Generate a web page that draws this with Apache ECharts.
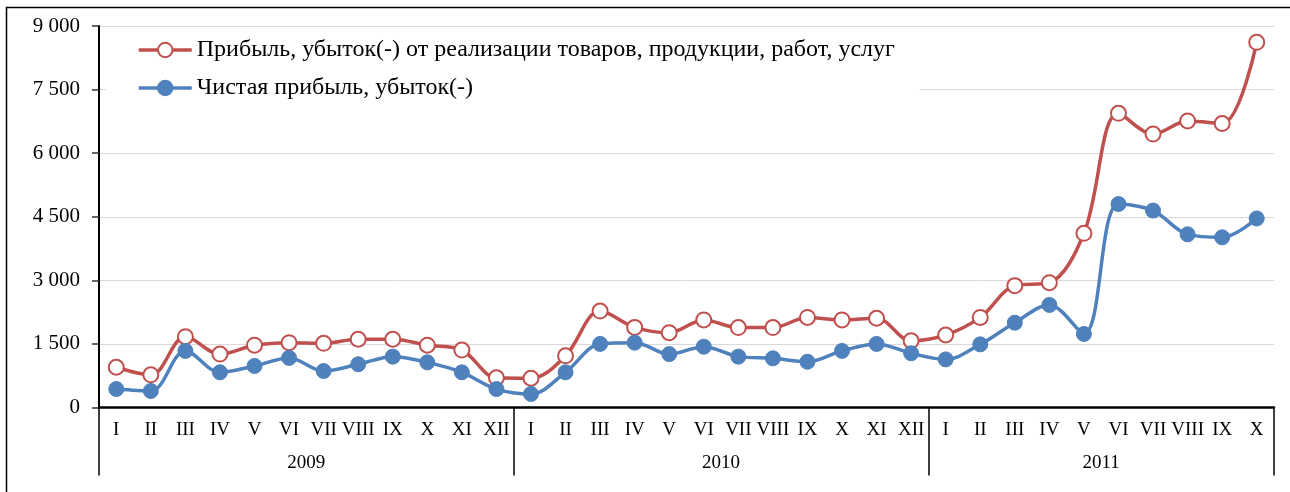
<!DOCTYPE html>
<html>
<head>
<meta charset="utf-8">
<script src="https://cdn.jsdelivr.net/npm/echarts@6/dist/echarts.min.js"></script>
<style>
html,body{margin:0;padding:0;background:#fff;}
#chart{width:1290px;height:492px;}
</style>
</head>
<body>
<div id="chart"></div>
<script>
const months = ['I','II','III','IV','V','VI','VII','VIII','IX','X','XI','XII',
                'I','II','III','IV','V','VI','VII','VIII','IX','X','XI','XII',
                'I','II','III','IV','V','VI','VII','VIII','IX','X'];
const years = ['2009','2010','2011'];
const yearCounts = [12, 12, 10];
const yTicks = [0, 1500, 3000, 4500, 6000, 7500, 9000];
const seriesNames = ['Прибыль, убыток(-) от реализации товаров, продукции, работ, услуг',
                     'Чистая прибыль, убыток(-)'];
const salesProfit = [950, 770, 1670, 1260, 1470, 1530, 1515, 1610, 1610, 1470, 1355, 700,
                     690, 1220, 2275, 1890, 1765, 2065, 1885, 1885, 2125, 2065, 2105, 1575,
                     1710, 2125, 2875, 2945, 4110, 6940, 6450, 6760, 6700, 8615];
const netProfit = [435, 390, 1335, 830, 980, 1170, 860, 1020, 1200, 1065, 830, 435,
                   320, 830, 1500, 1530, 1260, 1435, 1200, 1160, 1080, 1335, 1500, 1280,
                   1135, 1490, 2000, 2420, 1735, 4800, 4645, 4085, 4015, 4460];

// year group boundaries and centres derived from counts
const bounds = [0];
yearCounts.forEach(c => bounds.push(bounds[bounds.length - 1] + c));
const centres = yearCounts.map((c, i) => bounds[i] + c / 2);
const total = bounds[bounds.length - 1];

const FONT = '"Liberation Serif", "Times New Roman", serif';
const chart = echarts.init(document.getElementById('chart'), null, {renderer: 'canvas'});
chart.setOption({
  animation: false,
  backgroundColor: '#fff',
  graphic: [{
    type: 'rect', silent: true, z: -1,
    shape: {x: 6.5, y: 7.5, width: 1400, height: 600},
    style: {fill: 'none', stroke: '#000', lineWidth: 1.5}
  }],
  grid: {left: 99, right: 16, top: 26, bottom: 84.5},
  legend: {
    orient: 'vertical',
    left: 106, top: 28,
    padding: [10, 25, 8, 31],
    itemGap: 14,
    itemWidth: 53, itemHeight: 18,
    backgroundColor: '#fff',
    lineStyle: {width: 3.5},
    textStyle: {fontFamily: FONT, fontSize: 24, color: '#000'},
    data: seriesNames
  },
  xAxis: [{
    type: 'category',
    position: 'bottom',
    data: months,
    boundaryGap: true,
    axisLine: {lineStyle: {color: '#000', width: 2.5}},
    axisTick: {show: false},
    axisLabel: {interval: 0, margin: 13, fontFamily: FONT, fontSize: 19, color: '#000'},
    splitLine: {show: false}
  }, {
    type: 'value',
    position: 'bottom',
    min: 0, max: total,
    axisLine: {show: false},
    axisTick: {show: true, customValues: bounds, length: 68, inside: false,
               lineStyle: {color: '#000', width: 1.5}},
    axisLabel: {customValues: centres, margin: 46, fontFamily: FONT, fontSize: 19, color: '#000',
                formatter: v => years[centres.indexOf(v)] || ''},
    splitLine: {show: false}
  }],
  yAxis: {
    type: 'value',
    min: yTicks[0], max: yTicks[yTicks.length - 1], interval: 1500,
    axisLine: {show: true, lineStyle: {color: '#000', width: 2}},
    axisTick: {show: true, length: 7, lineStyle: {color: '#333', width: 1.5}},
    axisLabel: {margin: 19, fontFamily: FONT, fontSize: 21, color: '#000',
                formatter: v => String(v).replace(/\B(?=(\d{3})+(?!\d))/g, ' ')},
    splitLine: {lineStyle: {color: '#D9D9D9', width: 1}}
  },
  series: [{
    name: seriesNames[0],
    type: 'line',
    data: salesProfit,
    smooth: 0.35,
    symbol: 'circle',
    symbolSize: 15,
    lineStyle: {color: '#C0504D', width: 3.5},
    itemStyle: {color: '#fff', borderColor: '#C0504D', borderWidth: 2},
    color: '#C0504D'
  }, {
    name: seriesNames[1],
    type: 'line',
    data: netProfit,
    smooth: 0.35,
    symbol: 'circle',
    symbolSize: 15,
    lineStyle: {color: '#4F81BD', width: 3.5},
    itemStyle: {color: '#4F81BD', borderColor: '#4F81BD', borderWidth: 1},
    color: '#4F81BD'
  }]
});
</script>
</body>
</html>
